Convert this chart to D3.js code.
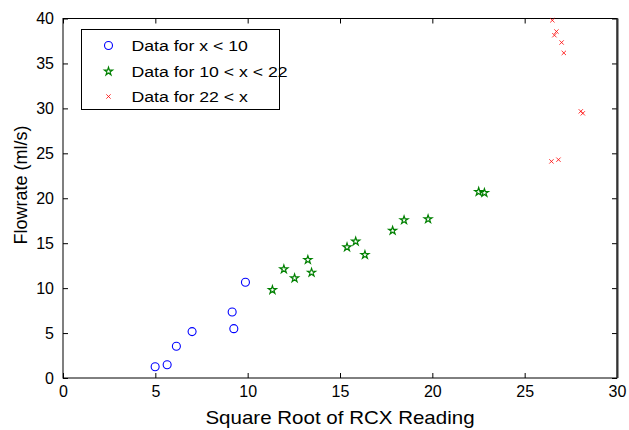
<!DOCTYPE html>
<html>
<head>
<meta charset="utf-8">
<script src="https://cdn.jsdelivr.net/npm/d3@7"></script>
<style>
  body { margin: 0; background: #fff; }
  text { font-family: "Liberation Sans", Arial, sans-serif; }
</style>
</head>
<body>
<div class="canvas"></div>
<script>
// data
const lowX  = [4.99, 5.64, 6.14, 6.99, 9.16, 9.25, 9.88]
const lowY  = [1.26, 1.48, 3.53, 5.16, 7.35, 5.49, 10.66]
const midX  = [11.34, 11.96, 12.54, 13.26, 13.46, 15.38, 15.85, 16.35, 17.85, 18.47, 19.77, 22.51, 22.82]
const midY  = [9.8, 12.1, 11.1, 13.15, 11.73, 14.56, 15.19, 13.7, 16.4, 17.57, 17.68, 20.72, 20.6]
const highX = [26.5, 26.72, 26.61, 27.0, 27.12, 28.04, 28.15, 26.45, 26.83]
const highY = [39.8, 38.55, 38.14, 37.33, 36.17, 29.67, 29.45, 24.1, 24.29]
const xTicks = [0, 5, 10, 15, 20, 25, 30]
const yTicks = [0, 5, 10, 15, 20, 25, 30, 35, 40]
const legendLabels = ['Data for x < 10', 'Data for 10 < x < 22', 'Data for 22 < x']

const W = 629, H = 430
const m = {left: 63, right: 12, top: 18.5, bottom: 52}
// the picture looks stretched sideways, so horizontal text is widened a bit
const stretch = 1.14

const svg = d3.select('.canvas').append('svg')
    .attr('width', W)
    .attr('height', H)

const x = d3.scaleLinear().domain([0, 30]).range([m.left, W - m.right])
const y = d3.scaleLinear().domain([0, 40]).range([H - m.bottom, m.top])

const pw = x(30) - x(0), ph = y(0) - y(40)

// axes with inward ticks, mirrored on top/right
const tickLen = 5
svg.append('g')
    .attr('transform', `translate(0,${y(0)})`)
    .call(d3.axisBottom(x).tickValues(xTicks).tickSize(-tickLen).tickPadding(8).tickFormat(d3.format('d')))
svg.append('g')
    .attr('transform', `translate(0,${y(40)})`)
    .call(d3.axisTop(x).tickValues(xTicks).tickSize(-tickLen).tickFormat(''))
svg.append('g')
    .attr('transform', `translate(${x(0)},0)`)
    .call(d3.axisLeft(y).tickValues(yTicks).tickSize(-tickLen).tickPadding(9).tickFormat(d3.format('d')))
svg.append('g')
    .attr('transform', `translate(${x(30)},0)`)
    .call(d3.axisRight(y).tickValues(yTicks).tickSize(-tickLen).tickFormat(''))

svg.selectAll('.domain').remove()
svg.selectAll('.tick line').attr('stroke', '#000')
svg.selectAll('.tick text')
    .attr('fill', '#000')
    .style('font-size', '16px')

// plot frame
svg.append('rect')
    .attr('x', x(0))
    .attr('y', y(40))
    .attr('width', pw)
    .attr('height', ph)
    .attr('fill', 'none')
    .attr('stroke', '#000')
    .attr('stroke-width', 1)
// right edge looks heavier in the picture
svg.append('line')
    .attr('x1', x(30) + 0.5).attr('x2', x(30) + 0.5)
    .attr('y1', y(40)).attr('y2', y(0))
    .attr('stroke', '#333')
    .attr('stroke-width', 2)

// markers
const star = d3.symbol().type(d3.symbolStar).size(20)
const cross = d3.symbol().type(d3.symbolX).size(14)

svg.append('g').selectAll('circle')
    .data(d3.zip(lowX, lowY))
    .join('circle')
    .attr('cx', d => x(d[0]))
    .attr('cy', d => y(d[1]))
    .attr('r', 4)
    .attr('fill', 'none')
    .attr('stroke', '#0000ff')
    .attr('stroke-width', 1.1)

svg.append('g').selectAll('path')
    .data(d3.zip(midX, midY))
    .join('path')
    .attr('d', star)
    .attr('transform', d => `translate(${x(d[0])},${y(d[1])})`)
    .attr('fill', 'none')
    .attr('stroke', '#008000')
    .attr('stroke-width', 1.2)

svg.append('g').selectAll('path')
    .data(d3.zip(highX, highY))
    .join('path')
    .attr('d', cross)
    .attr('transform', d => `translate(${x(d[0])},${y(d[1])})`)
    .attr('fill', '#ff0000')
    .attr('stroke', '#ff0000')
    .attr('stroke-width', 0.8)

// legend
const lg = svg.append('g').attr('transform', 'translate(81.5,29.5)')
lg.append('rect')
    .attr('width', 198)
    .attr('height', 80)
    .attr('fill', '#fff')
    .attr('stroke', '#000')

const rowY = [16, 42, 67]
lg.append('circle')
    .attr('cx', 27).attr('cy', rowY[0]).attr('r', 4)
    .attr('fill', 'none').attr('stroke', '#0000ff').attr('stroke-width', 1.1)
lg.append('path')
    .attr('d', star)
    .attr('transform', `translate(27,${rowY[1]})`)
    .attr('fill', 'none').attr('stroke', '#008000').attr('stroke-width', 1.2)
lg.append('path')
    .attr('d', cross)
    .attr('transform', `translate(27,${rowY[2]})`)
    .attr('fill', '#ff0000').attr('stroke', '#ff0000').attr('stroke-width', 0.8)

lg.selectAll('text.lab')
    .data(legendLabels)
    .join('text')
    .attr('class', 'lab')
    .attr('transform', (d, i) => `translate(50,${rowY[i]}) scale(${stretch},1)`)
    .attr('dy', '0.35em')
    .style('font-size', '15.5px')
    .text(d => d)

// axis titles
svg.append('text')
    .attr('transform', `translate(${x(15)},424) scale(${stretch},1)`)
    .attr('text-anchor', 'middle')
    .style('font-size', '18px')
    .text('Square Root of RCX Reading')

svg.append('text')
    .attr('transform', `translate(27,185) rotate(-90)`)
    .attr('text-anchor', 'middle')
    .style('font-size', '18px')
    .text('Flowrate (ml/s)')
</script>
</body>
</html>
